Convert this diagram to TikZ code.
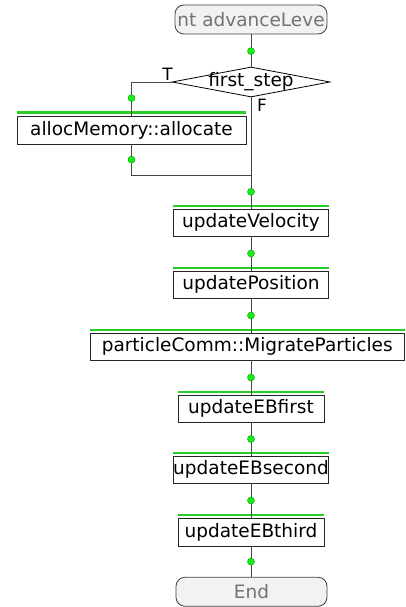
\documentclass[tikz,border=0pt]{standalone}
\usepackage{fontspec}
\setmainfont{DejaVu Sans}
\usetikzlibrary{shapes.geometric}
\definecolor{gbar}{RGB}{40,205,40}
\definecolor{dotfill}{RGB}{20,240,20}
\definecolor{dotline}{RGB}{0,150,0}
\definecolor{termfill}{RGB}{242,242,242}
\definecolor{termtext}{RGB}{115,115,115}
\definecolor{wire}{RGB}{70,70,70}
\tikzset{
  fbox/.style={rectangle, draw=black!85, fill=white, line width=0.8pt, inner sep=0pt,
    minimum height=27pt, font=\fontsize{18.5}{20}\selectfont},
  term/.style={rectangle, rounded corners=9pt, draw=black!75, fill=termfill, line width=0.8pt,
    inner sep=0pt, minimum height=29pt, text=termtext, font=\fontsize{18.5}{20}\selectfont},
  decision/.style={diamond, draw=black, fill=white, line width=0.8pt, inner sep=0pt,
    minimum width=158pt, minimum height=30pt},
  greenbar/.style={draw=gbar, line width=2.2pt},
  wireline/.style={draw=wire, line width=0.8pt},
  dotnode/.style={circle, fill=dotfill, draw=dotline, line width=0.4pt, minimum size=7pt, inner sep=0pt},
  lbl/.style={font=\fontsize{17}{18}\selectfont, inner sep=0pt}
}
\begin{document}
\begin{tikzpicture}[x=1pt, y=-1pt]
\useasboundingbox (0,0) rectangle (405,607);

% nodes
\node[term, minimum width=152pt] (start) at (251,19.5) {nt advanceLeve};
\node[decision] (dec) at (251,82) {};
\node[font=\fontsize{18.5}{20}\selectfont, inner sep=0pt] (dectext) at (251,82) {first\_step};
\node[fbox, minimum width=229pt, minimum height=28pt] (alloc) at (131.5,130) {allocMemory::allocate};
\node[fbox, minimum width=155pt] (vel) at (251,222.5) {updateVelocity};
\node[fbox, minimum width=155pt] (pos) at (251,284.5) {updatePosition};
\node[fbox, minimum width=314.5pt] (pc) at (247.25,346.5) {particleComm::MigrateParticles};
\node[fbox, minimum width=146pt] (eb1) at (251,408.5) {updateEBfirst};
\node[fbox, minimum width=154pt] (eb2) at (251,469.5) {updateEBsecond};
\node[fbox, minimum width=146pt, minimum height=28pt] (eb3) at (251,532) {updateEBthird};
\node[term, minimum width=151pt] (end) at (251.5,591.75) {End};

% green bars
\foreach \n in {alloc,vel,pos,pc,eb1,eb2,eb3}
  \draw[greenbar] ([yshift=3pt]\n.north west) -- ([yshift=3pt]\n.north east);

% labels
\node[lbl, anchor=south east] (tlabel) at (173,81) {T};
\node[lbl, anchor=north west] (flabel) at (257,99) {F};

% connectors
\coordinate (join) at (251,175);
\draw[wireline] (start.south) -- node[dotnode, pos=0.52]{} (dec.north);
\draw[wireline] (dec.west) -| node[dotnode, pos=0.74]{} (alloc.north);
\draw[wireline] (alloc.south) -- node[dotnode, pos=0.5]{} (alloc.south |- join) -- (join);
\draw[wireline] (dec.south) -- (join);
\draw[wireline] (join) -- node[dotnode, pos=0.5]{} (join |- vel.north);
\draw[wireline] (vel.south) -- node[dotnode]{} (pos.north);
\draw[wireline] (pos.south) -- node[dotnode]{} (pos.south |- pc.north);
\draw[wireline] (pos.south |- pc.south) -- node[dotnode]{} (eb1.north);
\draw[wireline] (eb1.south) -- node[dotnode]{} (eb2.north -| eb1.south);
\draw[wireline] (eb2.south -| eb1.south) -- node[dotnode]{} (eb3.north);
\draw[wireline] (eb3.south) -- node[dotnode]{} (eb3.south |- end.north);
\end{tikzpicture}
\end{document}
